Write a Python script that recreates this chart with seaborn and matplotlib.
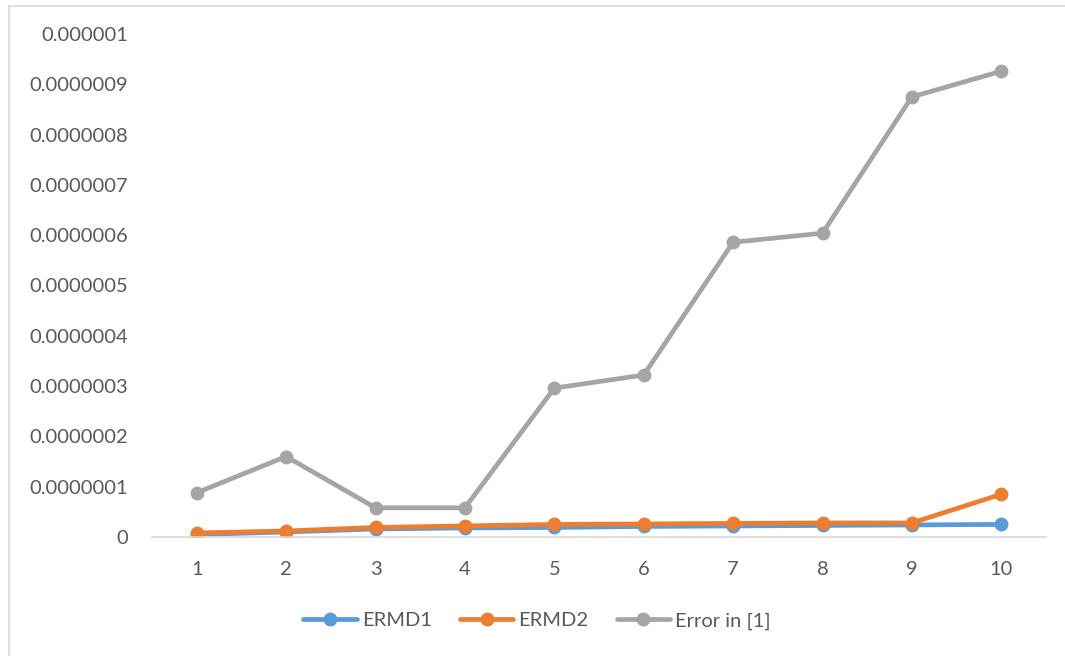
import numpy as np
import pandas as pd
import seaborn as sns
import matplotlib.pyplot as plt
from matplotlib.lines import Line2D

# Error values for each test case
cases = [1, 2, 3, 4, 5, 6, 7, 8, 9, 10]
ermd1 = [5e-9, 1.0e-8, 1.6e-8, 1.8e-8, 1.9e-8, 2.1e-8, 2.2e-8, 2.3e-8, 2.4e-8, 2.5e-8]
ermd2 = [8e-9, 1.2e-8, 1.9e-8, 2.2e-8, 2.5e-8, 2.6e-8, 2.7e-8, 2.8e-8, 2.8e-8, 8.5e-8]
error_ref = [8.8e-8, 1.6e-7, 5.8e-8, 5.8e-8, 2.96e-7, 3.22e-7, 5.86e-7, 6.04e-7, 8.75e-7, 9.26e-7]

series_names = ["ERMD1", "ERMD2", "Error in [1]"]
colors = ["#5B9BD5", "#ED7D31", "#A5A5A5"]

ytick_values = [0, 1e-7, 2e-7, 3e-7, 4e-7, 5e-7, 6e-7, 7e-7, 8e-7, 9e-7, 1e-6]
ytick_labels = ["0", "0.0000001", "0.0000002", "0.0000003", "0.0000004",
                "0.0000005", "0.0000006", "0.0000007", "0.0000008",
                "0.0000009", "0.000001"]

df = pd.DataFrame({
    "case": cases * 3,
    "value": ermd1 + ermd2 + error_ref,
    "series": [series_names[0]] * 10 + [series_names[1]] * 10 + [series_names[2]] * 10,
})

sns.set_theme(style="white")
plt.rcParams["font.family"] = ["Lato", "DejaVu Sans"]
text_color = "#595959"

fig = plt.figure(figsize=(10.65, 6.56), dpi=100)
ax = fig.add_axes([152 / 1065, (656 - 537) / 656, (1046 - 152) / 1065, (537 - 34) / 656])

sns.lineplot(data=df, x="case", y="value", hue="series", hue_order=series_names,
             palette=colors, marker="o", markersize=10, markeredgewidth=0,
             linewidth=3.4, ax=ax, legend=False)

ax.set_xlim(0.5, 10.5)
ax.set_ylim(0, 1e-6)
ax.set_xticks(cases)
ax.set_xticklabels([str(c) for c in cases])
ax.set_yticks(ytick_values)
ax.set_yticklabels(ytick_labels)
ax.set_xlabel("")
ax.set_ylabel("")
ax.tick_params(axis="both", length=0, labelsize=14.5, colors=text_color)
ax.tick_params(axis="y", pad=17)
ax.tick_params(axis="x", pad=17)
for side in ["top", "right", "left"]:
    ax.spines[side].set_visible(False)
ax.spines["bottom"].set_color("#D9D9D9")
ax.spines["bottom"].set_linewidth(1.2)
ax.grid(False)

handles = [Line2D([0], [0], color=c, lw=3.4, marker="o", markersize=10,
                  markeredgewidth=0) for c in colors]
fig.legend(handles, series_names, loc="center", bbox_to_anchor=(537 / 1065, 1 - 621 / 656),
           ncol=3, frameon=False, fontsize=14.5, labelcolor=text_color,
           handlelength=2.65, handletextpad=0.25, columnspacing=1.4)

# Chart-area border (left and top edges)
fig.add_artist(Line2D([8.5 / 1065, 8.5 / 1065], [0, 1 - 6 / 656], color="#D9D9D9", lw=1.2,
                      transform=fig.transFigure))
fig.add_artist(Line2D([8.5 / 1065, 1], [1 - 6 / 656, 1 - 6 / 656], color="#D9D9D9", lw=1.2,
                      transform=fig.transFigure))

fig.savefig("out.png", dpi=100)
